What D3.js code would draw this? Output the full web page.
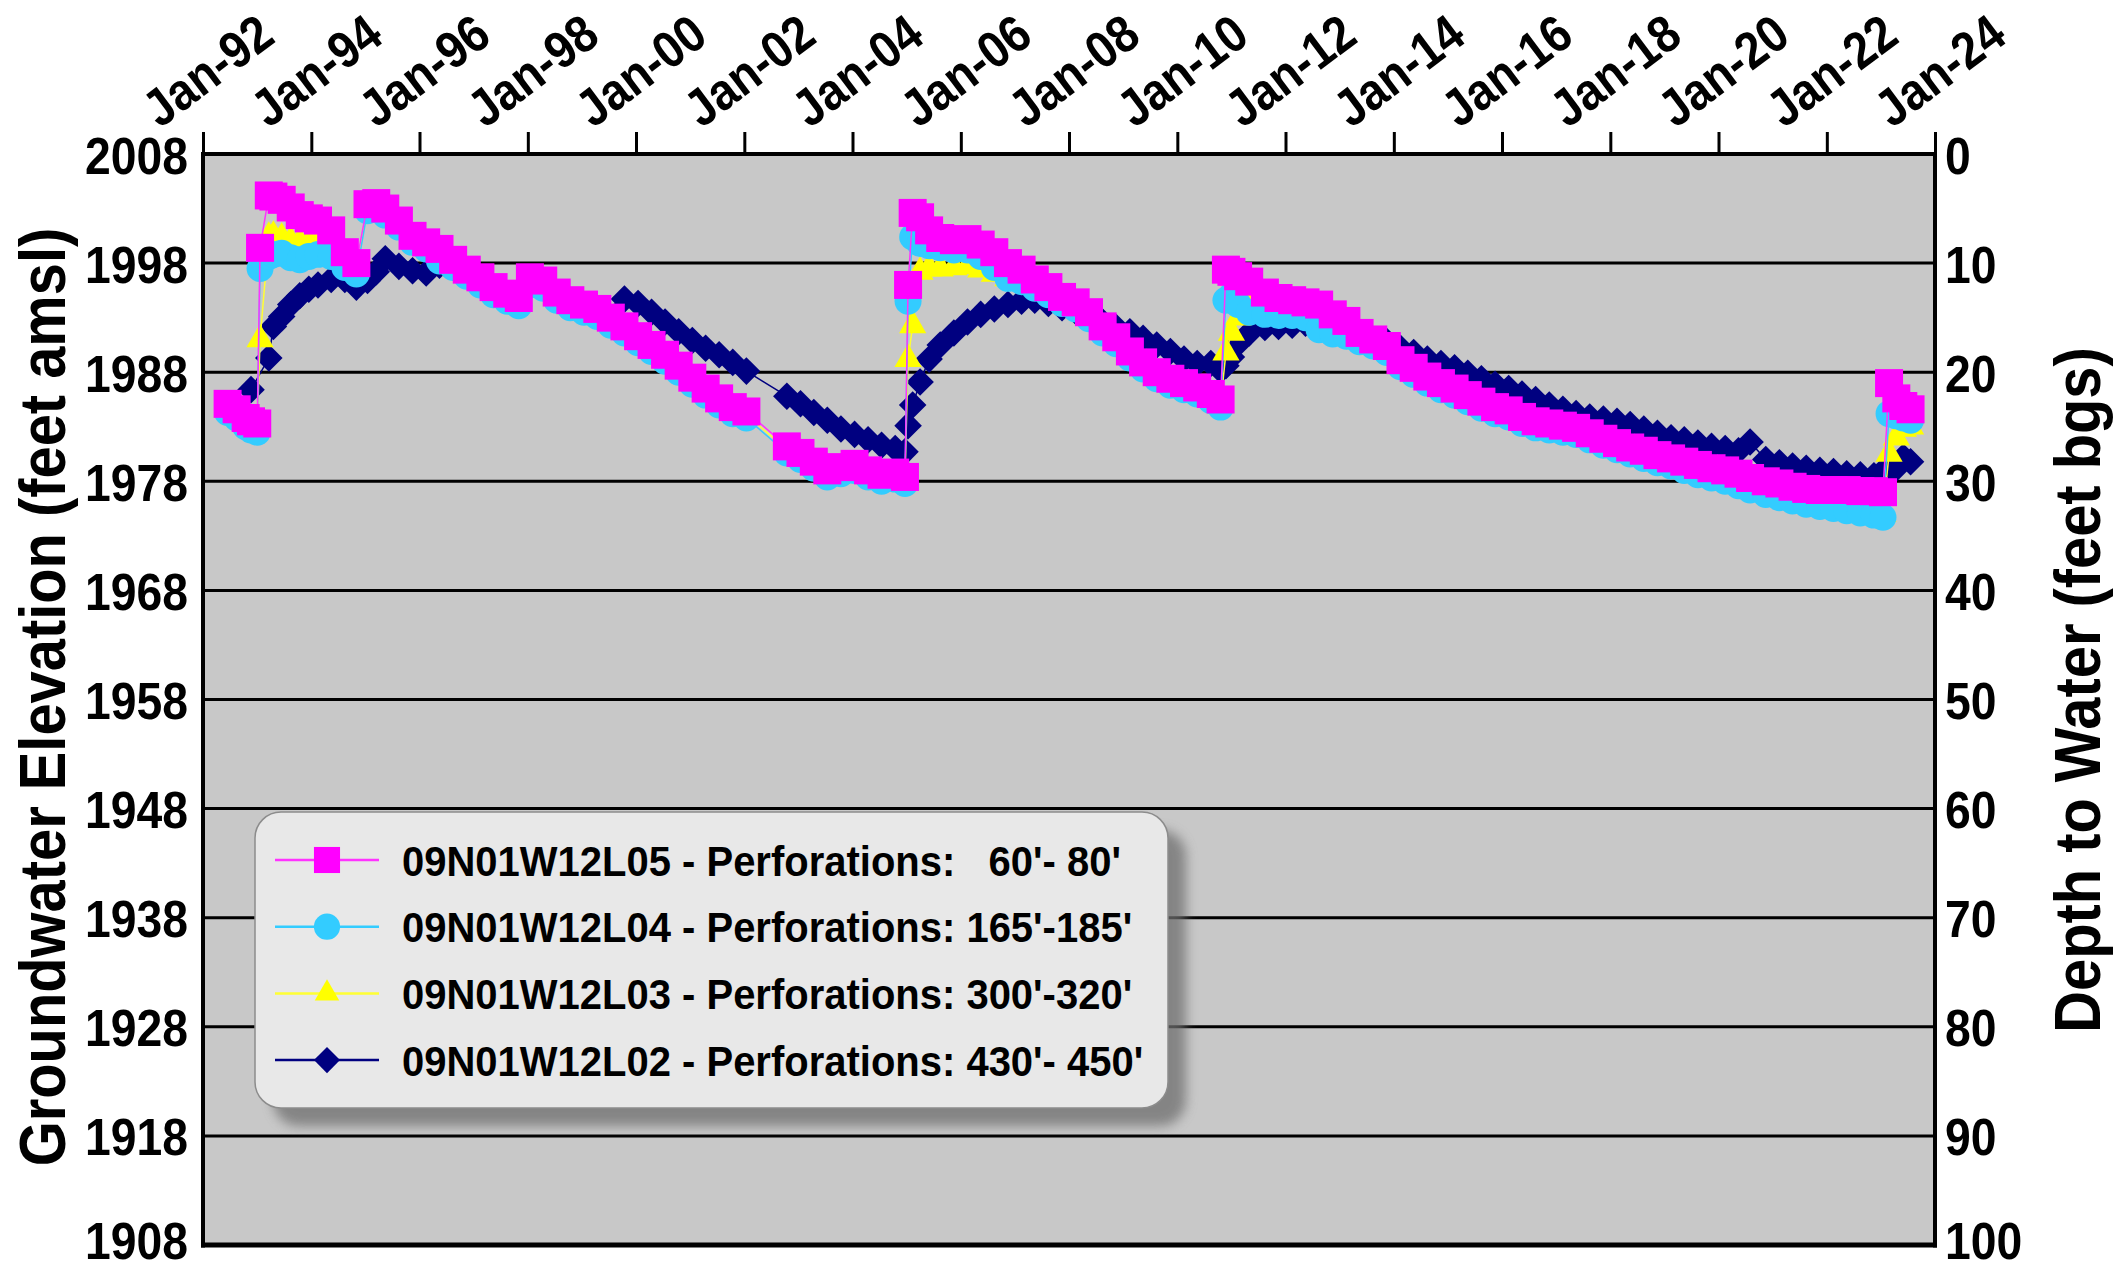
<!DOCTYPE html>
<html><head><meta charset="utf-8">
<script src="https://cdn.jsdelivr.net/npm/d3@7"></script>
<style>
html,body{margin:0;padding:0;background:#fff;}
svg{display:block;}
text{font-family:"Liberation Sans",Arial,Helvetica,sans-serif;font-weight:bold;fill:#000;}
</style></head><body>
<svg id="chart" width="2117" height="1269"></svg>
<script>
// ---------------- DATA ----------------
const dates = [
"1992-06-15","1992-08-15","1992-10-15","1992-11-20","1993-01-01","1993-01-20","1993-03-20","1993-04-20","1993-06-15","1993-08-15",
"1993-10-15","1993-12-15","1994-02-15","1994-05-15","1994-08-15","1994-11-01","1995-01-15","1995-03-15","1995-05-15","1995-08-15",
"1995-11-15","1996-02-15","1996-05-15","1996-08-15","1996-11-15","1997-02-15","1997-05-15","1997-08-15","1997-11-01","1998-01-15",
"1998-04-15","1998-07-15","1998-10-15","1999-01-15","1999-04-15","1999-07-15","1999-10-15","2000-01-15","2000-04-15","2000-07-15",
"2000-10-15","2001-01-15","2001-04-15","2001-07-15","2001-10-15","2002-01-15","2002-10-15","2003-01-15","2003-04-15","2003-07-15",
"2003-10-15","2004-01-15","2004-04-15","2004-07-15","2004-10-15","2004-12-20","2005-01-10","2005-02-10","2005-04-01","2005-06-01",
"2005-08-15","2005-11-15","2006-02-15","2006-05-15","2006-08-15","2006-11-15","2007-02-15","2007-05-15","2007-08-15","2007-11-15",
"2008-02-15","2008-05-15","2008-08-15","2008-11-15","2009-02-15","2009-05-15","2009-08-15","2009-11-15","2010-02-15","2010-05-15",
"2010-08-15","2010-10-20","2010-11-25","2011-01-01","2011-02-15","2011-05-01","2011-08-15","2011-11-15","2012-02-15","2012-05-15",
"2012-08-15","2012-11-15","2013-02-15","2013-05-15","2013-08-15","2013-11-15","2014-02-15","2014-05-15","2014-08-15","2014-11-15",
"2015-02-15","2015-05-15","2015-08-15","2015-11-15","2016-02-15","2016-05-15","2016-08-15","2016-11-15","2017-02-15","2017-05-15",
"2017-08-15","2017-11-15","2018-02-15","2018-05-15","2018-08-15","2018-11-15","2019-02-15","2019-05-15","2019-08-15","2019-11-15",
"2020-02-15","2020-05-15","2020-08-01","2020-11-15","2021-02-15","2021-05-15","2021-08-15","2021-11-15","2022-02-15","2022-05-15",
"2022-08-15","2022-11-15","2023-01-15","2023-02-25","2023-04-15","2023-06-01","2023-07-20"
];
// 09N01W12L05 (60'-80')
const l05 = [
1985.1,1984.6,1983.8,1983.5,1983.3,1999.4,2004.2,2004.1,2003.8,2003.1,
2002.4,2002.1,2001.9,2001.0,1999.0,1998.0,2003.4,2003.5,2003.0,2001.9,
2000.5,1999.9,1999.3,1998.3,1997.4,1996.7,1995.8,1995.2,1994.8,1996.7,
1996.4,1995.3,1994.6,1994.2,1993.8,1993.0,1992.2,1991.3,1990.5,1989.6,
1988.6,1987.5,1986.5,1985.6,1984.8,1984.4,1981.2,1980.6,1979.8,1979.0,
1979.3,1979.6,1979.0,1978.6,1978.8,1978.4,1996.0,2002.6,2002.2,2001.0,
2000.3,2000.1,2000.2,1999.7,1999.0,1998.0,1997.4,1996.5,1995.8,1994.9,
1994.4,1993.5,1992.2,1991.2,1989.9,1988.9,1988.0,1987.4,1987.0,1986.6,
1986.0,1985.5,1997.4,1997.2,1996.8,1996.3,1995.3,1994.8,1994.6,1994.4,
1994.2,1993.3,1992.7,1991.6,1991.0,1990.4,1989.1,1988.4,1987.6,1987.0,
1986.5,1985.9,1985.3,1984.8,1984.5,1983.9,1983.5,1983.3,1983.1,1982.9,
1982.4,1981.9,1981.5,1981.1,1980.8,1980.4,1980.1,1979.8,1979.5,1979.2,
1979.0,1978.7,1978.3,1978.0,1977.8,1977.5,1977.3,1977.2,1977.2,1977.2,
1977.1,1977.1,1977.0,1987.0,1985.6,1984.9,1984.6
];
// 09N01W12L04 (165'-185')
const l04 = [
1984.3,1983.8,1983.0,1982.7,1982.5,1997.5,1998.6,1998.8,1998.9,1998.5,
1998.3,1998.6,1998.8,1998.6,1997.6,1997.0,2002.8,2002.9,2002.4,2001.3,
1999.9,1999.3,1998.2,1997.6,1996.8,1996.0,1995.1,1994.5,1994.1,1996.0,
1995.7,1994.6,1993.9,1993.5,1993.1,1992.3,1991.6,1990.7,1989.9,1989.0,
1988.0,1986.9,1985.9,1985.0,1984.2,1983.8,1980.6,1980.0,1979.2,1978.4,
1978.7,1979.0,1978.4,1978.0,1978.2,1977.8,1994.5,2000.4,1999.8,1999.6,
1999.4,1999.2,1999.2,1998.6,1997.6,1996.6,1996.3,1995.7,1995.1,1994.3,
1993.8,1992.9,1991.6,1990.6,1989.3,1988.3,1987.4,1986.8,1986.4,1986.0,
1985.4,1984.8,1994.6,1995.0,1994.2,1993.5,1993.3,1993.2,1993.2,1993.0,
1991.9,1991.5,1991.3,1990.8,1990.4,1989.8,1988.5,1987.8,1987.0,1986.4,
1985.9,1985.3,1984.7,1984.2,1983.9,1983.3,1982.9,1982.7,1982.5,1982.3,
1981.8,1981.3,1980.9,1980.5,1980.1,1979.7,1979.4,1979.0,1978.6,1978.3,
1978.0,1977.6,1977.2,1976.8,1976.5,1976.2,1975.9,1975.7,1975.5,1975.3,
1975.1,1974.9,1974.7,1984.2,1984.0,1983.8,1983.6
];
// 09N01W12L03 (300'-320')
const l03 = [
1984.7,1984.2,1983.4,1983.1,1983.0,1991.0,2000.4,2000.5,2000.3,2000.0,
1999.9,1999.9,1999.9,1999.5,1998.2,1997.5,2003.1,2003.2,2002.7,2001.6,
2000.2,1999.6,1998.8,1998.0,1997.1,1996.4,1995.5,1994.9,1994.5,1996.4,
1996.1,1995.0,1994.3,1993.9,1993.5,1992.7,1991.9,1991.0,1990.2,1989.3,
1988.3,1987.2,1986.2,1985.3,1984.5,1984.1,1980.9,1980.3,1979.5,1978.7,
1979.0,1979.3,1978.7,1978.3,1978.5,1978.1,1989.2,1992.3,1997.2,1997.5,
1997.5,1997.6,1997.7,1997.4,1997.0,1996.6,1996.5,1996.0,1995.4,1994.6,
1994.1,1993.2,1991.9,1990.9,1989.6,1988.6,1987.7,1987.1,1986.7,1986.3,
1985.7,1985.1,1989.8,1991.6,1993.0,1994.2,1993.5,1993.4,1993.4,1993.3,
1992.3,1991.9,1991.6,1991.1,1990.7,1990.1,1988.8,1988.1,1987.3,1986.7,
1986.2,1985.6,1985.0,1984.5,1984.2,1983.6,1983.2,1983.0,1982.8,1982.6,
1982.1,1981.6,1981.2,1980.8,1980.5,1980.1,1979.8,1979.4,1979.1,1978.8,
1978.3,1977.9,1977.5,1977.1,1976.8,1976.5,1976.2,1976.0,1975.8,1975.6,
1975.4,1975.2,1975.0,1980.5,1982.0,1982.8,1983.0
];
// 09N01W12L02 (430'-450')
const l02 = [
null,null,null,1986.4,null,null,1989.3,1992.2,1993.1,1994.2,
1995.0,1995.6,1996.0,1996.5,1996.5,1995.8,1996.4,1997.2,1998.4,1997.7,
1997.3,1997.1,1997.8,1997.6,1996.9,1996.2,1995.3,1994.8,1994.9,1996.0,
1995.8,1994.8,1994.2,1993.8,1993.4,null,1994.7,1994.3,1993.5,1992.6,
1991.7,1990.9,1990.2,1989.6,1988.9,1988.1,1985.8,1985.1,1984.3,1983.6,
1982.8,1982.3,1981.8,1981.3,1981.0,1980.7,1983.1,1985.0,1987.1,1989.2,
1990.5,1991.6,1992.6,1993.3,1993.8,1994.2,1994.5,1994.6,1994.3,1993.9,
1993.6,1993.1,1992.6,1992.1,1991.7,1991.1,1990.5,1989.9,1989.2,1988.8,
1988.8,1988.2,1988.6,1989.4,1990.6,1991.6,1992.1,1992.2,1992.3,1992.5,
1992.2,1991.9,1991.6,1991.2,1990.9,1990.8,1990.2,1989.8,1989.2,1988.8,
1988.4,1987.9,1987.4,1986.9,1986.5,1986.0,1985.5,1985.0,1984.6,1984.2,
1983.9,1983.7,1983.5,1983.2,1982.8,1982.4,1982.0,1981.8,1981.5,1981.2,
1981.0,1980.8,1981.6,1980.0,1979.7,1979.4,1979.2,1979.0,1978.9,1978.7,
1978.6,1978.5,1978.4,1979.5,1979.2,1980.2,1979.8
];
const seriesLabels = [
"09N01W12L05 - Perforations:   60'- 80'",
"09N01W12L04 - Perforations: 165'-185'",
"09N01W12L03 - Perforations: 300'-320'",
"09N01W12L02 - Perforations: 430'- 450'"
];
const elevationTicks = [1908,1918,1928,1938,1948,1958,1968,1978,1988,1998,2008];
const depthTicks = [0,10,20,30,40,50,60,70,80,90,100];
const dateTicks = ["1992-01-01","1994-01-01","1996-01-01","1998-01-01","2000-01-01","2002-01-01","2004-01-01","2006-01-01","2008-01-01",
"2010-01-01","2012-01-01","2014-01-01","2016-01-01","2018-01-01","2020-01-01","2022-01-01","2024-01-01"];
const yTitleLeft = "Groundwater Elevation (feet amsl)";
const yTitleRight = "Depth to Water (feet bgs)";

// ---------------- CHART ----------------
const svg = d3.select("#chart");
const plot = {left:203, right:1935, top:154, bottom:1245};
const parse = d3.timeParse("%Y-%m-%d");
const x = d3.scaleTime().domain([parse(dateTicks[0]), parse(dateTicks[dateTicks.length-1])]).range([plot.left, plot.right]);
const y = d3.scaleLinear().domain([1908, 2008]).range([plot.bottom, plot.top]);
const yDepth = d3.scaleLinear().domain([0, 100]).range([plot.top, plot.bottom]);

const defs = svg.append("defs");
defs.append("filter").attr("id","blur").attr("x","-10%").attr("y","-10%").attr("width","120%").attr("height","130%")
  .append("feGaussianBlur").attr("stdDeviation",6);

// plot background
svg.append("rect").attr("x",plot.left).attr("y",plot.top)
  .attr("width",plot.right-plot.left).attr("height",plot.bottom-plot.top).attr("fill","#c8c8c8");

// gridlines
svg.append("g").selectAll("line").data(elevationTicks.filter(v=>v>1908 && v<2008)).join("line")
  .attr("x1",plot.left).attr("x2",plot.right).attr("y1",d=>y(d)).attr("y2",d=>y(d))
  .attr("stroke","#000").attr("stroke-width",3);

// symbols
const sym = {
  square: d3.symbol(d3.symbolSquare, 784)(),
  circle: d3.symbol(d3.symbolCircle, 572)(),
  triangle: d3.symbol(d3.symbolTriangle, 320)(),
  diamond: d3.symbol(d3.symbolSquare, 380)()
};
const symLegend = {
  square: d3.symbol(d3.symbolSquare, 680)(),
  circle: d3.symbol(d3.symbolCircle, 540)(),
  triangle: d3.symbol(d3.symbolTriangle, 260)(),
  diamond: d3.symbol(d3.symbolSquare, 340)()
};
const series = [
  {label: seriesLabels[0], values: l05, color:"#ff00ff", line:"#ff33ff", shape:"square"},
  {label: seriesLabels[1], values: l04, color:"#33ccff", line:"#33ccff", shape:"circle"},
  {label: seriesLabels[2], values: l03, color:"#ffff00", line:"#ffff33", shape:"triangle"},
  {label: seriesLabels[3], values: l02, color:"#000080", line:"#000080", shape:"diamond"}
];
const line = d3.line().x(d=>x(d.date)).y(d=>y(d.v));
const drawOrder = [3,2,1,0];
drawOrder.forEach(i => {
  const s = series[i];
  const pts = dates.map((d,k)=>({date: parse(d), v: s.values[k]})).filter(p=>p.v!==null);
  const g = svg.append("g");
  g.append("path").datum(pts).attr("d",line).attr("fill","none").attr("stroke",s.line).attr("stroke-width",1.5);
  g.selectAll("path.m").data(pts).join("path").attr("class","m")
    .attr("d", sym[s.shape]).attr("fill", s.color)
    .attr("transform", p=>`translate(${x(p.date)},${y(p.v)})` + (s.shape==="diamond" ? " rotate(45)" : ""));
});

// frame
const frame = svg.append("g").attr("stroke","#000");
frame.append("line").attr("x1",plot.left-2).attr("x2",plot.right+2).attr("y1",plot.top).attr("y2",plot.top).attr("stroke-width",4);
frame.append("line").attr("x1",plot.left-2).attr("x2",plot.right+2).attr("y1",plot.bottom).attr("y2",plot.bottom).attr("stroke-width",5);
frame.append("line").attr("x1",plot.left).attr("x2",plot.left).attr("y1",plot.top).attr("y2",plot.bottom+2.5).attr("stroke-width",4);
frame.append("line").attr("x1",plot.right).attr("x2",plot.right).attr("y1",plot.top).attr("y2",plot.bottom+2.5).attr("stroke-width",4);

// top date axis
const gx = svg.append("g").attr("transform",`translate(0,${plot.top})`)
  .call(d3.axisTop(x).tickValues(dateTicks.map(parse)).tickFormat(d3.timeFormat("%b-%y")).tickSize(22).tickSizeOuter(0));
gx.attr("font-size",null).attr("font-family",null);
gx.select(".domain").remove();
gx.selectAll(".tick line").attr("stroke","#000").attr("stroke-width",3);
gx.selectAll(".tick text").attr("x",0).attr("y",0).attr("dy",null)
  .attr("text-anchor","middle").attr("dominant-baseline","central")
  .attr("font-size",52).attr("fill","#000")
  .attr("transform","translate(4,-84) rotate(-37) scale(0.89,1)");

// left elevation axis
const gl = svg.append("g").attr("transform",`translate(${plot.left},0)`)
  .call(d3.axisLeft(y).tickValues(elevationTicks).tickFormat(d3.format("d")).tickSize(0));
gl.attr("font-size",null).attr("font-family",null);
gl.select(".domain").remove();
gl.selectAll(".tick text").attr("x",0).attr("y",0).attr("dy",null)
  .attr("text-anchor","end").attr("font-size",52).attr("fill","#000")
  .attr("transform",d=>`translate(-15,${d===1908?13:19}) scale(0.89,1)`);

// right depth axis
const gr = svg.append("g").attr("transform",`translate(${plot.right},0)`)
  .call(d3.axisRight(yDepth).tickValues(depthTicks).tickFormat(d3.format("d")).tickSize(0));
gr.attr("font-size",null).attr("font-family",null);
gr.select(".domain").remove();
gr.selectAll(".tick text").attr("x",0).attr("y",0).attr("dy",null)
  .attr("text-anchor","start").attr("font-size",52).attr("fill","#000")
  .attr("transform",d=>`translate(10,${d===100?13:19}) scale(0.89,1)`);

// axis titles
svg.append("text").attr("text-anchor","middle").attr("font-size",65)
  .attr("transform","translate(65,697) rotate(-90) scale(0.89,1)").text(yTitleLeft);
svg.append("text").attr("text-anchor","middle").attr("font-size",65)
  .attr("transform","translate(2100,690) rotate(-90) scale(0.89,1)").text(yTitleRight);

// legend
const lg = svg.append("g");
const box = {x:255, y:812, w:913, h:296};
lg.append("rect").attr("x",box.x+18).attr("y",box.y+18).attr("width",box.w).attr("height",box.h)
  .attr("rx",26).attr("fill","#6e6e6e").attr("opacity",0.75).attr("filter","url(#blur)");
lg.append("rect").attr("x",box.x).attr("y",box.y).attr("width",box.w).attr("height",box.h)
  .attr("rx",26).attr("fill","#e8e8e8").attr("stroke","#8c8c8c").attr("stroke-width",1.5);
series.forEach((s,i) => {
  const cy = 860 + i*66.7;
  const row = lg.append("g").attr("transform",`translate(0,${cy})`);
  row.append("line").attr("x1",275).attr("x2",379).attr("y1",0).attr("y2",0).attr("stroke",s.line).attr("stroke-width",2.5);
  row.append("path").attr("d",symLegend[s.shape]).attr("fill",s.color)
    .attr("transform",`translate(327,0)` + (s.shape==="diamond" ? " rotate(45)" : ""));
  row.append("text").attr("font-size",43).style("white-space","pre").attr("xml:space","preserve")
    .attr("transform","translate(402,15.5) scale(0.93,1)").text(s.label);
});
</script>
</body></html>
